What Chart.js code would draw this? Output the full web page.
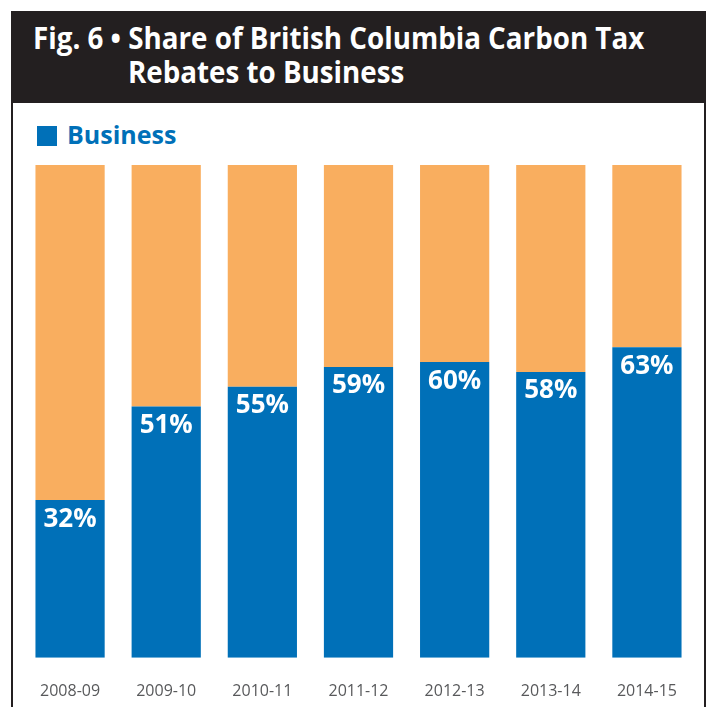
<!DOCTYPE html>
<html>
<head>
<meta charset="utf-8">
<script src="https://cdn.jsdelivr.net/npm/chart.js@4/dist/chart.umd.min.js"></script>
<style>
    body { margin: 0; background: #fff; width: 711px; height: 707px; overflow: hidden; font-family: "Open Sans", sans-serif; }
    .frame { position: absolute; left: 11px; top: 11px; width: 691px; height: 710px; border-left: 2px solid #231f20; border-right: 2px solid #231f20; }
    .head { position: absolute; left: 11px; top: 11px; width: 695px; height: 92px; background: #231f20; color: #fff; font-weight: 700; }
    .head p { margin: 0; position: absolute; white-space: nowrap; font-size: 30px; transform-origin: left center; transform: scaleX(0.925); }
    .legend { position: absolute; left: 37px; top: 117px; color: #0070b8; font-weight: 700; font-size: 25px; }
    .legend span { display: inline-block; width: 20px; height: 20px; background: #0070b8; vertical-align: -2px; margin-right: 10px; }
    .box { position: absolute; left: 13px; top: 103px; width: 691px; height: 624px; }
</style>
</head>
<body>
<div class="frame"></div>
<div class="head">
    <p style="left:22px; top:6px;">Fig. 6 • Share of British Columbia Carbon Tax</p>
    <p style="left:117px; top:40px;">Rebates to Business</p>
</div>
<div class="legend"><span></span>Business</div>
<div class="box"><canvas id="chartShare"></canvas></div>
<script>
const years = ["2008-09", "2009-10", "2010-11", "2011-12", "2012-13", "2013-14", "2014-15"];
const business = [32, 51, 55, 59, 60, 58, 63];
const other = [68, 49, 45, 41, 40, 42, 37];

// white percent labels just under the top of each blue bar
const percentLabels = {
    id: 'percentLabels',
    afterDatasetsDraw(chart) {
        let ctx = chart.ctx;
        let meta = chart.getDatasetMeta(0);
        ctx.save();
        ctx.fillStyle = '#ffffff';
        ctx.font = '700 26px "Open Sans"';
        ctx.textAlign = 'center';
        ctx.textBaseline = 'middle';
        meta.data.forEach((bar, i) => {
            ctx.fillText(business[i] + '%', bar.x, bar.y + 19);
        });
        ctx.restore();
    }
};

new Chart(document.getElementById('chartShare'), {
    type: 'bar',
    data: {
        labels: years,
        datasets: [{
            label: 'Business',
            data: business,
            backgroundColor: '#0070b8',
        }, {
            label: 'Other',
            data: other,
            backgroundColor: '#f9ae5f',
        }]
    },
    options: {
        responsive: true,
        maintainAspectRatio: false,
        animation: false,
        barPercentage: 0.72,
        categoryPercentage: 1,
        layout: {
            padding: { left: 9, right: 9, top: 62, bottom: 10 }
        },
        plugins: {
            legend: { display: false },
            tooltip: { enabled: false }
        },
        scales: {
            x: {
                stacked: true,
                grid: { display: false },
                border: { display: false },
                ticks: {
                    color: '#58595b',
                    padding: 16,
                    font: { family: 'Open Sans', size: 16 }
                }
            },
            y: {
                stacked: true,
                display: false,
                min: 0,
                max: 100
            }
        }
    },
    plugins: [percentLabels]
});
</script>
</body>
</html>
